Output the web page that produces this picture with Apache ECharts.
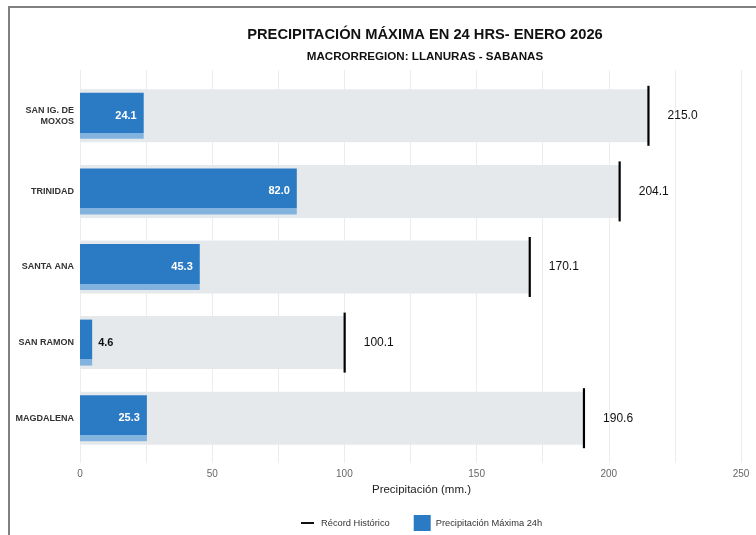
<!DOCTYPE html>
<html>
<head>
<meta charset="utf-8">
<script src="https://cdn.jsdelivr.net/npm/echarts@6/dist/echarts.min.js"></script>
<style>
  html, body { margin: 0; padding: 0; background: #fff; }
  #chart { width: 756px; height: 535px; }
</style>
</head>
<body>
<div id="chart"></div>
<script>
// datos
const stations = ['SAN IG. DE\nMOXOS', 'TRINIDAD', 'SANTA ANA', 'SAN RAMON', 'MAGDALENA'];
const precipMax = [24.1, 82.0, 45.3, 4.6, 25.3];
const recordHist = [215.0, 204.1, 170.1, 100.1, 190.6];
const xTicks = [0, 50, 100, 150, 200, 250];

const FONT = "'Liberation Sans', Arial, sans-serif";
const BLUE = '#2b7bc4';
const BLUE_LIGHT = '#82b3df';

const chart = echarts.init(document.getElementById('chart'), null, { renderer: 'canvas' });

// barra azul con franja clara abajo
const blueFill = new echarts.graphic.LinearGradient(0, 0, 0, 1, [
    { offset: 0, color: BLUE },
    { offset: 0.865, color: BLUE },
    { offset: 0.865, color: BLUE_LIGHT },
    { offset: 1, color: BLUE_LIGHT }
]);

const precipData = precipMax.map(v => {
    if (v < 10) {
        return {
            value: v,
            label: { position: 'right', color: '#111', distance: 6 }
        };
    }
    return v;
});

const option = {
    backgroundColor: '#fff',
    textStyle: { fontFamily: FONT },
    graphic: [{
        type: 'rect',
        shape: { x: 9, y: 7, width: 900, height: 700 },
        style: { fill: 'none', stroke: '#808080', lineWidth: 2 },
        silent: true
    }],
    title: [{
        text: 'PRECIPITACIÓN MÁXIMA EN 24 HRS- ENERO 2026',
        left: 420,
        top: 22,
        textAlign: 'center',
        textStyle: { fontFamily: FONT, fontSize: 14.7, fontWeight: 'bold', color: '#111' }
    }, {
        text: 'MACRORREGION: LLANURAS - SABANAS',
        left: 420,
        top: 46,
        textAlign: 'center',
        textStyle: { fontFamily: FONT, fontSize: 11.6, fontWeight: 'bold', color: '#111' }
    }],
    legend: {
        left: 294,
        top: 510,
        itemWidth: 17,
        itemHeight: 16,
        itemGap: 24,
        textStyle: { fontFamily: FONT, fontSize: 9.3, color: '#333' },
        data: [
            { name: 'Récord Histórico', icon: 'path://M0,0 L0,0 M2,0 L15,0 L15,2 L2,2 Z M17,0 L17,0', itemStyle: { color: '#111' } },
            { name: 'Precipitación Máxima 24h', icon: 'rect', itemStyle: { color: BLUE } }
        ]
    },
    grid: [
        { left: 80, right: 15, top: 78, height: 378 },
        { left: 80, right: 15, top: 70, height: 393 }
    ],
    xAxis: [{
        type: 'value',
        gridIndex: 0,
        min: 0,
        max: 250,
        interval: 25,
        name: 'Precipitación (mm.)',
        nameLocation: 'middle',
        nameGap: 23,
        nameTextStyle: { fontFamily: FONT, fontSize: 11.5, color: '#222', padding: [0, 0, 0, 22] },
        axisLine: { show: false },
        axisTick: { show: false },
        axisLabel: {
            margin: 13,
            fontSize: 10,
            color: '#666',
            formatter: v => (xTicks.indexOf(v) >= 0 ? String(v) : '')
        },
        splitLine: { show: false }
    }, {
        // solo para las líneas de rejilla
        type: 'value',
        gridIndex: 1,
        min: 0,
        max: 250,
        interval: 25,
        axisLine: { show: false },
        axisTick: { show: false },
        axisLabel: { show: false },
        splitLine: { show: true, lineStyle: { color: '#ececec', width: 1 } },
        z: 0
    }],
    yAxis: [{
        type: 'category',
        gridIndex: 0,
        data: stations,
        inverse: true,
        axisLine: { show: false },
        axisTick: { show: false },
        axisLabel: {
            margin: 6,
            fontSize: 9,
            fontWeight: 'bold',
            color: '#333',
            lineHeight: 11,
            align: 'right'
        }
    }, {
        type: 'category',
        gridIndex: 0,
        data: stations,
        inverse: true,
        show: false
    }, {
        type: 'value',
        gridIndex: 1,
        min: 0,
        max: 1,
        show: false
    }],
    series: [{
        name: 'fondo',
        type: 'bar',
        yAxisIndex: 0,
        data: recordHist,
        barWidth: 53,
        silent: true,
        itemStyle: { color: '#e6e9ec' },
        z: 1
    }, {
        name: 'Precipitación Máxima 24h',
        type: 'bar',
        yAxisIndex: 1,
        data: precipData,
        barWidth: 46,
        itemStyle: { color: blueFill },
        label: {
            show: true,
            position: 'insideRight',
            distance: 7,
            color: '#fff',
            fontFamily: FONT,
            fontSize: 11,
            fontWeight: 'bold',
            formatter: p => p.value.toFixed(1)
        },
        z: 2
    }, {
        name: 'Récord Histórico',
        type: 'scatter',
        yAxisIndex: 0,
        data: recordHist.map((v, i) => [v, stations[i]]),
        symbol: 'rect',
        symbolSize: [2.2, 60],
        itemStyle: { color: '#000', opacity: 1 },
        label: {
            show: true,
            position: 'right',
            distance: 18,
            color: '#111',
            fontFamily: FONT,
            fontSize: 12,
            formatter: p => p.value[0].toFixed(1)
        },
        z: 3
    }]
};

chart.setOption(option);
</script>
</body>
</html>
